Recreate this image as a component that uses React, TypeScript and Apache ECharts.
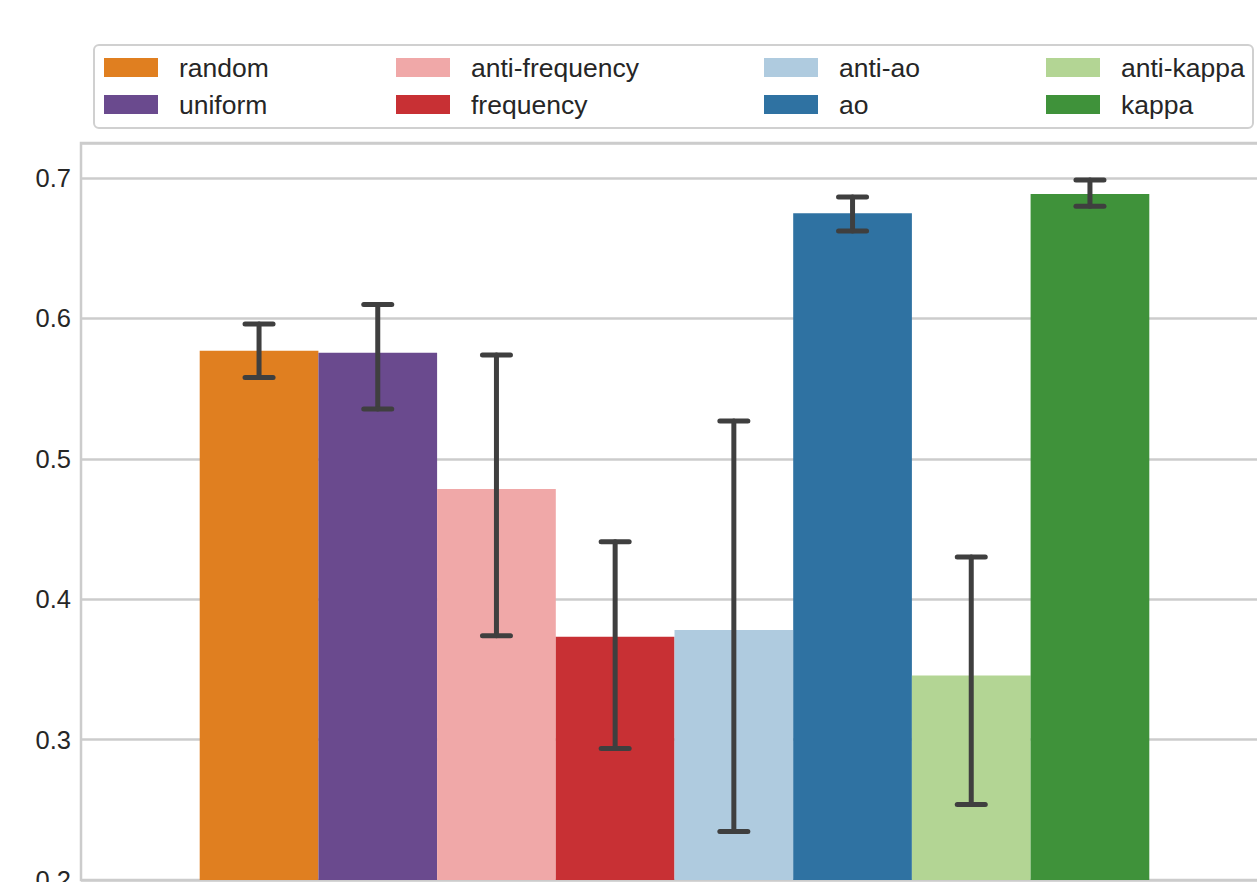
import React, { useEffect, useRef } from "react";
import * as echarts from "echarts";

const names = ["random", "uniform", "anti-frequency", "frequency", "anti-ao", "ao", "anti-kappa", "kappa"];
const colors = ["#e07f20", "#6a4a8e", "#f0a8a8", "#c83034", "#afcbdf", "#2f72a2", "#b3d594", "#3f923a"];
const means = [0.577, 0.5755, 0.4785, 0.3733, 0.378, 0.675, 0.3456, 0.6886];
const errLow = [0.558, 0.5356, 0.374, 0.2936, 0.2345, 0.6623, 0.2537, 0.68];
const errHigh = [0.596, 0.61, 0.574, 0.441, 0.527, 0.6865, 0.43, 0.6986];
const yTicks = [0.2, 0.3, 0.4, 0.5, 0.6, 0.7];
// one empty slot on each side of the 8 hue bars
const slots = ["", ...names, " "];

const FONT = "'Liberation Sans', Arial, sans-serif";
const TXT = "#262626";

export default function App() {
  const ref = useRef<HTMLDivElement>(null);
  useEffect(() => {
    if (!ref.current) return;
    const chart = echarts.init(ref.current, undefined, { renderer: "svg" });
    const barSeries = names.map((n, i) => ({
      name: n,
      type: "bar",
      data: slots.map((_, j) => (j === i + 1 ? means[i] : null)),
      barGap: "-100%",
      barCategoryGap: "0%",
      itemStyle: { color: colors[i] },
      z: 2,
    }));
    const errData = names.map((_, i) => [i + 1, errLow[i], errHigh[i]]);
    const legendCols = [0, 1, 2, 3].map((c) => ({
      data: [names[c * 2], names[c * 2 + 1]],
      orient: "vertical",
      left: [104, 396, 764, 1046][c],
      top: 54,
      padding: 0,
      itemGap: 10,
      itemWidth: 54,
      itemHeight: 19,
      icon: "rect",
      selectedMode: false,
      textStyle: { fontFamily: FONT, fontSize: 26.5, lineHeight: 26, color: TXT, padding: [0, 0, 0, 16] },
      z: 10,
    }));
    chart.setOption({
      animation: false,
      backgroundColor: "#ffffff",
      graphic: [
        {
          type: "rect",
          shape: { x: 94, y: 45, width: 1159, height: 83, r: 5 },
          style: { fill: "#ffffff", stroke: "#d0d0d0", lineWidth: 2 },
          z: 5,
        },
      ],
      legend: legendCols,
      grid: { left: 81, top: 143, width: 1187, height: 737, show: true, borderColor: "#cccccc", borderWidth: 2.5, backgroundColor: "#ffffff" },
      xAxis: {
        type: "category",
        data: slots,
        axisLine: { show: false },
        axisTick: { show: false },
        axisLabel: { show: false },
        splitLine: { show: false },
      },
      yAxis: {
        type: "value",
        min: yTicks[0],
        max: 0.725,
        interval: 0.1,
        axisLine: { show: false },
        axisTick: { show: false },
        axisLabel: {
          showMaxLabel: false,
          margin: 10,
          fontFamily: FONT,
          fontSize: 25.5,
          color: TXT,
          formatter: (v: number) => v.toFixed(1),
        },
        splitLine: { lineStyle: { color: "#cccccc", width: 2.5 } },
      },
      series: [
        ...barSeries,
        {
          type: "custom",
          name: "err",
          data: errData,
          encode: { x: 0, y: [1, 2] },
          z: 5,
          renderItem: (params: any, api: any) => {
            const x = api.value(0);
            const lo = api.coord([x, api.value(1)]);
            const hi = api.coord([x, api.value(2)]);
            const hw = 14;
            const style = { stroke: "#3f3f3f", lineWidth: 5, lineCap: "round" };
            return {
              type: "group",
              children: [
                { type: "line", shape: { x1: lo[0], y1: lo[1], x2: hi[0], y2: hi[1] }, style },
                { type: "line", shape: { x1: hi[0] - hw, y1: hi[1], x2: hi[0] + hw, y2: hi[1] }, style },
                { type: "line", shape: { x1: lo[0] - hw, y1: lo[1], x2: lo[0] + hw, y2: lo[1] }, style },
              ],
            };
          },
        },
      ],
    });
    return () => chart.dispose();
  }, []);
  return (
    <div style={{ position: "fixed", left: 0, top: 0, width: 1257, height: 882, overflow: "hidden", background: "#fff" }}>
      <div ref={ref} style={{ width: 1300, height: 940 }} />
    </div>
  );
}
